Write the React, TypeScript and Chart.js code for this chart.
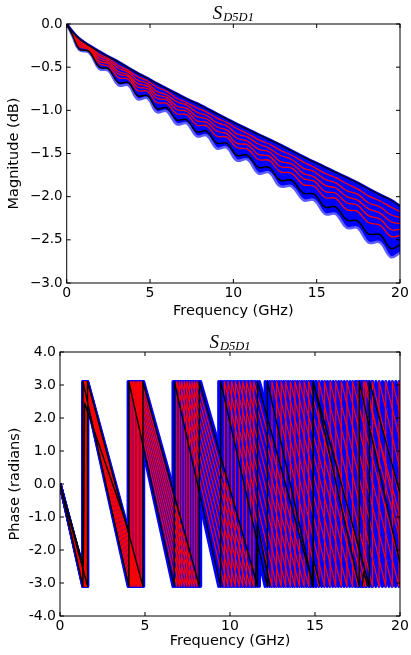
import React, { useEffect, useRef } from "react";
import { Chart, registerables } from "chart.js";
Chart.register(...registerables);

const FONT = '"DejaVu Sans", sans-serif';

// ---------- Magnitude plot data ----------
const freqGrid = [0, 0.35, 0.75, 1.35, 1.95, 2.5, 3.1, 3.7, 4.25, 4.85, 5.4, 6.0, 6.6, 7.2, 7.8, 8.4, 9.0, 9.6, 10.2, 10.85, 11.5, 12.15, 12.8, 13.5, 14.2, 14.85, 15.5, 16.15, 16.8, 17.45, 18.1, 18.8, 19.45, 20];

const magUpper = [0, -0.09, -0.17, -0.25, -0.32, -0.38, -0.44, -0.51, -0.57, -0.63, -0.69, -0.75, -0.81, -0.87, -0.92, -0.98, -1.04, -1.10, -1.16, -1.22, -1.28, -1.34, -1.40, -1.47, -1.54, -1.60, -1.66, -1.72, -1.78, -1.84, -1.91, -1.98, -2.04, -2.11];
const magLower = [0, -0.14, -0.30, -0.33, -0.52, -0.54, -0.71, -0.71, -0.87, -0.86, -1.02, -1.01, -1.16, -1.15, -1.30, -1.29, -1.44, -1.43, -1.58, -1.57, -1.73, -1.72, -1.88, -1.88, -2.04, -2.04, -2.20, -2.20, -2.36, -2.36, -2.53, -2.53, -2.70, -2.65];
const magBlackWavy = [0, -0.13, -0.29, -0.32, -0.50, -0.52, -0.68, -0.68, -0.83, -0.83, -0.98, -0.97, -1.11, -1.11, -1.25, -1.24, -1.38, -1.38, -1.52, -1.52, -1.66, -1.66, -1.81, -1.81, -1.96, -1.97, -2.12, -2.12, -2.27, -2.28, -2.43, -2.44, -2.60, -2.56];
const magRed1 = [0, -0.10, -0.19, -0.26, -0.35, -0.40, -0.48, -0.54, -0.61, -0.66, -0.73, -0.78, -0.86, -0.91, -0.97, -1.02, -1.09, -1.14, -1.21, -1.27, -1.34, -1.39, -1.46, -1.52, -1.60, -1.66, -1.73, -1.78, -1.85, -1.91, -1.99, -2.05, -2.12, -2.17];
const magRed2 = [0, -0.10, -0.21, -0.27, -0.37, -0.42, -0.51, -0.56, -0.65, -0.69, -0.78, -0.82, -0.90, -0.94, -1.02, -1.06, -1.14, -1.18, -1.27, -1.31, -1.39, -1.44, -1.52, -1.57, -1.67, -1.71, -1.80, -1.84, -1.93, -1.97, -2.07, -2.12, -2.21, -2.24];
const magRed3 = [0, -0.11, -0.22, -0.28, -0.40, -0.44, -0.55, -0.59, -0.69, -0.72, -0.82, -0.85, -0.95, -0.98, -1.07, -1.10, -1.19, -1.23, -1.32, -1.36, -1.45, -1.48, -1.59, -1.62, -1.73, -1.77, -1.87, -1.90, -2.00, -2.04, -2.14, -2.19, -2.29, -2.31];
const magRed4 = [0, -0.11, -0.24, -0.29, -0.43, -0.46, -0.58, -0.61, -0.73, -0.75, -0.86, -0.88, -0.99, -1.01, -1.12, -1.14, -1.24, -1.27, -1.38, -1.40, -1.51, -1.53, -1.65, -1.67, -1.79, -1.82, -1.94, -1.96, -2.07, -2.10, -2.22, -2.26, -2.38, -2.38];
const magRed5 = [0, -0.12, -0.26, -0.30, -0.46, -0.49, -0.62, -0.64, -0.77, -0.78, -0.91, -0.92, -1.04, -1.05, -1.17, -1.18, -1.30, -1.31, -1.43, -1.45, -1.57, -1.58, -1.71, -1.73, -1.86, -1.88, -2.01, -2.02, -2.15, -2.17, -2.30, -2.33, -2.46, -2.45];
const magRedSeries = [magRed1, magRed2, magRed3, magRed4, magRed5];

const magYTickValues = [-3, -2.5, -2, -1.5, -1, -0.5, 0];
const magYTickLabels = ["\u22123.0", "\u22122.5", "\u22122.0", "\u22121.5", "\u22121.0", "\u22120.5", "0.0"];

// ---------- Phase plot data (frequencies where each trace wraps from -pi to +pi) ----------
const PHASE_EDGE = 3.1;
const phaseBlueWraps = [
  [1.34, 4.01, 6.65, 9.34, 12.07, 14.74, 17.41, 20.08],
  [1.35, 4.05, 6.72, 9.45, 12.20, 14.90, 17.60, 20.30],
  [1.36, 4.09, 6.79, 9.56, 12.34, 15.07, 17.80, 20.53],
  [1.38, 4.13, 6.87, 9.67, 12.47, 15.23, 17.99, 20.75],
  [1.39, 4.17, 6.94, 9.78, 12.61, 15.40, 18.19, 20.98],
  [1.40, 4.22, 7.02, 9.88, 12.74, 15.56, 18.38, 21.20],
  [1.42, 4.26, 7.09, 9.99, 12.88, 15.73, 18.58, 21.43],
  [1.43, 4.30, 7.16, 10.10, 13.01, 15.89, 18.77, 21.65],
  [1.44, 4.34, 7.24, 10.21, 13.15, 16.06, 18.97, 21.88],
  [1.46, 4.38, 7.31, 10.32, 13.28, 16.22, 19.16, 22.10],
  [1.47, 4.42, 7.39, 10.43, 13.42, 16.39, 19.36, 22.33],
  [1.49, 4.47, 7.46, 10.54, 13.55, 16.55, 19.55, 22.55],
  [1.50, 4.51, 7.53, 10.64, 13.69, 16.72, 19.75, 22.78],
  [1.51, 4.55, 7.61, 10.75, 13.82, 16.88, 19.94, 23.00],
  [1.53, 4.59, 7.68, 10.86, 13.96, 17.05, 20.14],
  [1.54, 4.63, 7.76, 10.97, 14.09, 17.21, 20.33],
  [1.55, 4.67, 7.83, 11.08, 14.23, 17.38, 20.53],
  [1.57, 4.71, 7.90, 11.19, 14.36, 17.54, 20.72],
  [1.58, 4.76, 7.98, 11.29, 14.50, 17.71, 20.92],
  [1.59, 4.80, 8.05, 11.40, 14.63, 17.87, 21.11],
  [1.61, 4.84, 8.13, 11.51, 14.77, 18.04, 21.31],
  [1.62, 4.88, 8.20, 11.62, 14.90, 18.20, 21.50],
  [1.63, 4.92, 8.27, 11.73, 15.04, 18.37, 21.70],
];
const phaseRedWraps = [
  [1.38, 4.13, 6.87, 9.67, 12.47, 15.23, 17.99, 20.75],
  [1.40, 4.22, 7.02, 9.88, 12.74, 15.56, 18.38, 21.20],
  [1.43, 4.30, 7.16, 10.10, 13.01, 15.89, 18.77, 21.65],
  [1.46, 4.38, 7.31, 10.32, 13.28, 16.22, 19.16, 22.10],
  [1.49, 4.47, 7.46, 10.54, 13.55, 16.55, 19.55, 22.55],
  [1.51, 4.55, 7.61, 10.75, 13.82, 16.88, 19.94, 23.00],
  [1.54, 4.63, 7.76, 10.97, 14.09, 17.21, 20.33],
  [1.57, 4.71, 7.90, 11.19, 14.36, 17.54, 20.72],
  [1.59, 4.80, 8.05, 11.40, 14.63, 17.87, 21.11],
];
const phaseBlackWraps = [
  [1.35, 4.05, 6.72, 9.45, 12.20, 14.90, 17.60, 20.30],
  [1.62, 4.88, 8.20, 11.62, 14.90, 18.20, 21.50],
];
// black traces whose coarse sampling gives partial wraps (x in GHz, y in rad)
const phaseBlackPartialX = [
  [0, 1.37, 1.45, 4.1],
  [11.5, 11.62, 12.35],
  [14.82, 14.92, 15.3],
  [17.78, 17.86, 18.1],
];
const phaseBlackPartialY = [
  [0, -2.45, 2.45, -1.5],
  [-3.1, -1.2, -3.1],
  [-3.1, -2.3, -3.1],
  [-3.1, -2.65, -3.1],
];

const phaseYTickValues = [-4, -3, -2, -1, 0, 1, 2, 3, 4];
const phaseYTickLabels = ["-4.0", "-3.0", "-2.0", "-1.0", "0.0", "1.0", "2.0", "3.0", "4.0"];
const xTickValues = [0, 5, 10, 15, 20];
const xTickLabels = ["0", "5", "10", "15", "20"];

const titleMain = "S";
const titleSub = "D5D1";
const xTitle = "Frequency (GHz)";
const magTitle = "Magnitude (dB)";
const phaseTitle = "Phase (radians)";

// ---------- helpers ----------
function toPoints(ys: number[]) {
  return freqGrid.map((f, i) => ({ x: f, y: ys[i] }));
}
function sawtooth(wraps: number[]) {
  const pts: { x: number; y: number }[] = [{ x: 0, y: 0 }];
  wraps.forEach((w, i) => {
    pts.push({ x: w, y: -PHASE_EDGE });
    if (i < wraps.length - 1) pts.push({ x: w, y: PHASE_EDGE });
  });
  return pts;
}
function labelFor(values: number[], labels: string[]) {
  return (v: any) => {
    const i = values.findIndex((t) => Math.abs(t - Number(v)) < 1e-6);
    return i >= 0 ? labels[i] : "";
  };
}

const frameTicks = {
  id: "frameTicks",
  afterDatasetsDraw(chart: any) {
    const { ctx, chartArea, scales } = chart;
    const { left, right, top, bottom } = chartArea;
    ctx.save();
    ctx.strokeStyle = "#000";
    ctx.lineWidth = 1;
    ctx.strokeRect(left, top, right - left, bottom - top);
    const tl = 4;
    ctx.beginPath();
    scales.x.ticks.forEach((t: any) => {
      const px = scales.x.getPixelForValue(t.value);
      ctx.moveTo(px, bottom);
      ctx.lineTo(px, bottom - tl);
      ctx.moveTo(px, top);
      ctx.lineTo(px, top + tl);
    });
    scales.y.ticks.forEach((t: any) => {
      const py = scales.y.getPixelForValue(t.value);
      ctx.moveTo(left, py);
      ctx.lineTo(left + tl, py);
      ctx.moveTo(right, py);
      ctx.lineTo(right - tl, py);
    });
    ctx.stroke();
    ctx.restore();
  },
};

const mathTitle = {
  id: "mathTitle",
  afterDraw(chart: any, _a: any, opts: any) {
    const { ctx, chartArea } = chart;
    const cx = (chartArea.left + chartArea.right) / 2;
    const mainFont = 'italic 19px "Liberation Serif", serif';
    const subFont = 'italic 12.5px "Liberation Serif", serif';
    ctx.save();
    ctx.fillStyle = "#000";
    ctx.textBaseline = "alphabetic";
    ctx.textAlign = "left";
    ctx.font = mainFont;
    const wS = ctx.measureText(titleMain).width;
    ctx.font = subFont;
    const wSub = ctx.measureText(titleSub).width;
    const x0 = cx - (wS + wSub + 1) / 2;
    ctx.font = mainFont;
    ctx.fillText(titleMain, x0, opts.y);
    ctx.font = subFont;
    ctx.fillText(titleSub, x0 + wS + 1, opts.y + opts.sub);
    ctx.restore();
  },
};

function xScale(height: number) {
  return {
    type: "linear" as const,
    min: 0,
    max: 20,
    grid: { display: false, drawTicks: false },
    border: { display: false },
    ticks: {
      stepSize: 5,
      padding: 2,
      color: "#000",
      maxRotation: 0,
      font: { family: FONT, size: 14 },
      callback: labelFor(xTickValues, xTickLabels),
    },
    title: { display: true, text: xTitle, color: "#000", padding: 0, font: { family: FONT, size: 14.5 } },
    afterFit: (s: any) => {
      s.height = height;
    },
  };
}

export default function App() {
  const r1 = useRef<HTMLCanvasElement>(null);
  const r2 = useRef<HTMLCanvasElement>(null);

  useEffect(() => {
    const line = (data: any[], color: string, width: number, order: number, extra: any = {}) => ({
      data,
      borderColor: color,
      backgroundColor: color,
      borderWidth: width,
      pointRadius: 0,
      fill: false,
      order,
      borderJoinStyle: "round",
      ...extra,
    });

    const magDatasets: any[] = [
      line(toPoints(magUpper), "#0000ff", 3, 4, { tension: 0.4 }),
      line(toPoints(magLower), "#5c5cff", 2.5, 4, { tension: 0.4, fill: "-1", backgroundColor: "#0000ff" }),
      ...magRedSeries.map((s) => line(toPoints(s), "#ff0000", 1.3, 2, { tension: 0.4 })),
      line(toPoints(magBlackWavy), "#000000", 1.5, 1, { tension: 0.4 }),
      line(toPoints(magUpper), "#000028", 1.6, 1, { tension: 0.4 }),
    ];

    const c1 = new Chart(r1.current!, {
      type: "line",
      data: { datasets: magDatasets },
      plugins: [frameTicks, mathTitle],
      options: {
        animation: false,
        responsive: false,
        events: [],
        layout: { padding: { left: 0, right: 11, top: 24, bottom: 7 } },
        plugins: {
          legend: { display: false },
          tooltip: { enabled: false },
          mathTitle: { y: 18.5, sub: 2.5 },
        } as any,
        scales: {
          x: xScale(37) as any,
          y: {
            min: -3,
            max: 0,
            grid: { display: false, drawTicks: false },
            border: { display: false },
            ticks: {
              stepSize: 0.5,
              padding: 4,
              color: "#000",
              font: { family: FONT, size: 13.5 },
              callback: labelFor(magYTickValues, magYTickLabels),
            },
            title: { display: true, text: magTitle, color: "#000", padding: { top: 6, bottom: 0 }, font: { family: FONT, size: 14.5 } },
            afterFit: (s: any) => {
              s.width = 66.7;
            },
          } as any,
        },
      },
    });

    const phaseDatasets: any[] = [
      ...phaseBlueWraps.map((w) => line(sawtooth(w), "#0000ff", 3.2, 3)),
      ...phaseRedWraps.map((w) => line(sawtooth(w), "#ff0000", 1.2, 2)),
      ...phaseBlackWraps.map((w) => line(sawtooth(w), "#000000", 1.4, 1)),
      ...phaseBlackPartialX.map((xs, k) =>
        line(xs.map((x, i) => ({ x, y: phaseBlackPartialY[k][i] })), "#000000", 1.4, 1)
      ),
    ];

    const c2 = new Chart(r2.current!, {
      type: "line",
      data: { datasets: phaseDatasets },
      plugins: [frameTicks, mathTitle],
      options: {
        animation: false,
        responsive: false,
        events: [],
        layout: { padding: { left: 0, right: 11, top: 25, bottom: 5 } },
        plugins: {
          legend: { display: false },
          tooltip: { enabled: false },
          mathTitle: { y: 21, sub: 2 },
        } as any,
        scales: {
          x: xScale(34) as any,
          y: {
            min: -4,
            max: 4,
            grid: { display: false, drawTicks: false },
            border: { display: false },
            ticks: {
              stepSize: 1,
              padding: 4,
              color: "#000",
              font: { family: FONT, size: 14 },
              callback: labelFor(phaseYTickValues, phaseYTickLabels),
            },
            title: { display: true, text: phaseTitle, color: "#000", padding: { top: 7, bottom: 0 }, font: { family: FONT, size: 14.5 } },
            afterFit: (s: any) => {
              s.width = 60;
            },
          } as any,
        },
      },
    });

    return () => {
      c1.destroy();
      c2.destroy();
    };
  }, []);

  return (
    <div style={{ position: "absolute", left: 0, top: 0, width: 411, height: 655, background: "#fff" }}>
      <canvas ref={r1} width={411} height={327} style={{ position: "absolute", left: 0, top: 0 }} />
      <canvas ref={r2} width={411} height={328} style={{ position: "absolute", left: 0, top: 327 }} />
    </div>
  );
}
